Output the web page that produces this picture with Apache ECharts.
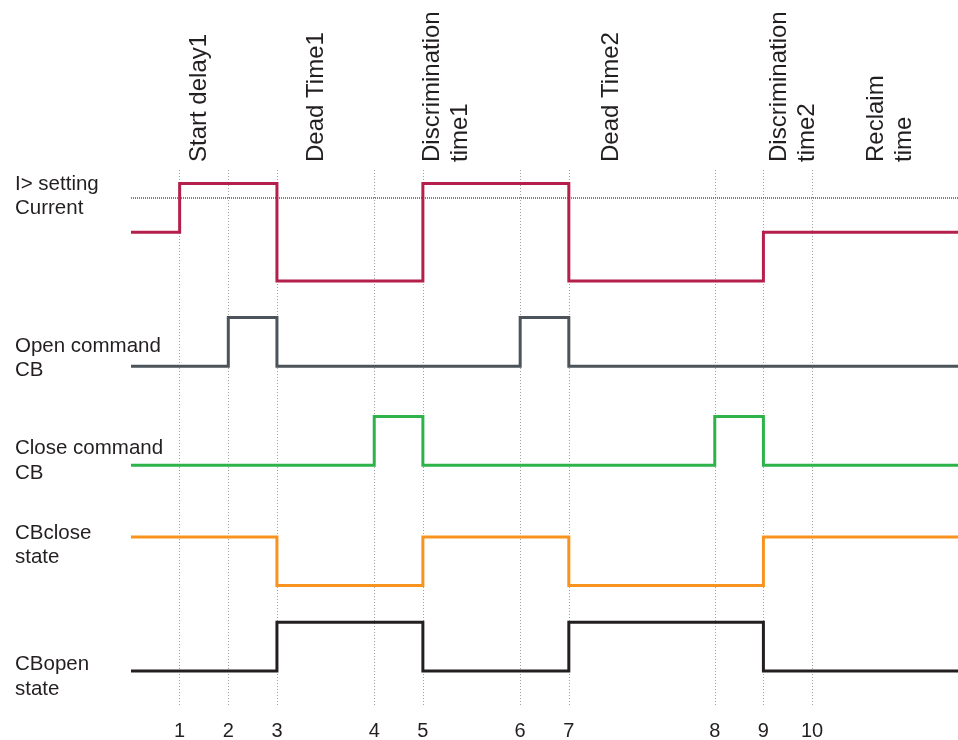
<!DOCTYPE html>
<html>
<head>
<meta charset="utf-8">
<script src="https://cdn.jsdelivr.net/npm/echarts@6/dist/echarts.min.js"></script>
<style>html,body{margin:0;padding:0;background:#fff;}#chart{width:958px;height:740px;}</style>
</head>
<body>
<div id="chart"></div>
<script>
// ---- data ----
const tickPositions = [1, 2, 3, 5, 6, 8, 9, 12, 13, 14];
const tickLabels = ['1', '2', '3', '4', '5', '6', '7', '8', '9', '10'];
const timeEnd = 17;

const currentTimes = [0, 1, 3, 6, 9, 13];
const currentLevels = [0, 1, -1, 1, -1, 0];
const currentThreshold = 0.7;

const openTimes = [0, 2, 3, 8, 9];
const openLevels = [0, 1, 0, 1, 0];

const closeTimes = [0, 5, 6, 12, 13];
const closeLevels = [0, 1, 0, 1, 0];

const cbCloseTimes = [0, 3, 6, 9, 13];
const cbCloseLevels = [1, 0, 1, 0, 1];

const cbOpenTimes = [0, 3, 6, 9, 13];
const cbOpenLevels = [0, 1, 0, 1, 0];

const signalNames = ['I> setting\nCurrent', 'Open command\nCB', 'Close command\nCB', 'CBclose\nstate', 'CBopen\nstate'];
const phaseLabels = ['Start delay1', 'Dead Time1', 'Discrimination\ntime1', 'Dead Time2', 'Discrimination\ntime2', 'Reclaim\ntime'];

// ---- layout / style ----
const baselines = [10, 7.25, 5.22, 2.75, 1.0];
const colors = ['#b41f4b', '#4c535a', '#2db34a', '#f7931e', '#231f20'];
const FONT = '"Liberation Sans", Arial, Helvetica, sans-serif';
const TEXT = '#231f20';

function buildSteps(times, levels, base) {
  const d = times.map((t, i) => [t, base + levels[i]]);
  d.push([timeEnd, base + levels[levels.length - 1]]);
  return d;
}

const signals = [
  [currentTimes, currentLevels],
  [openTimes, openLevels],
  [closeTimes, closeLevels],
  [cbCloseTimes, cbCloseLevels],
  [cbOpenTimes, cbOpenLevels]
];

const series = signals.map((s, i) => ({
  type: 'line',
  step: 'end',
  data: buildSteps(s[0], s[1], baselines[i]),
  showSymbol: false,
  symbol: 'none',
  silent: true,
  z: 5,
  lineStyle: { color: colors[i], width: 3, join: 'miter', cap: 'butt' }
}));

// vertical dotted reference lines at the numbered instants + threshold line
series.push({
  type: 'line',
  data: [],
  silent: true,
  z: 1,
  markLine: {
    silent: true,
    symbol: 'none',
    label: { show: false },
    animation: false,
    lineStyle: { color: '#a0a0a0', width: 1, type: [1, 2] },
    data: tickPositions.map(v => ({ xAxis: v }))
  }
});
series.push({
  type: 'line',
  data: [],
  silent: true,
  z: 2,
  markLine: {
    silent: true,
    symbol: 'none',
    label: { show: false },
    animation: false,
    lineStyle: { color: '#555', width: 1.5, type: [1, 1] },
    data: [{ yAxis: baselines[0] + currentThreshold }]
  }
});

// ---- text annotations ----
const phaseX = [185.6, 302.7, 418.4, 597, 765, 862];
const leftY = [196.5, 358.3, 460.7, 545.5, 676.7];
const graphics = [];
phaseLabels.forEach((t, i) => {
  graphics.push({
    type: 'text', x: phaseX[i], y: 162, rotation: Math.PI / 2, silent: true,
    style: { text: t, font: '24px ' + FONT, fill: TEXT, align: 'left', verticalAlign: 'top', lineHeight: 28 }
  });
});
signalNames.forEach((t, i) => {
  graphics.push({
    type: 'text', x: 15, y: leftY[i], silent: true,
    style: { text: t, font: '20.5px ' + FONT, fill: TEXT, align: 'left', verticalAlign: 'middle', lineHeight: 24.5 }
  });
});

const chart = echarts.init(document.getElementById('chart'), null, { renderer: 'canvas' });
chart.setOption({
  animation: false,
  backgroundColor: '#fff',
  grid: { left: 131, right: 0, top: 168, bottom: 35, containLabel: false, outerBoundsMode: 'none' },
  xAxis: {
    type: 'value', min: 0, max: timeEnd, interval: 1,
    axisLine: { show: false }, axisTick: { show: false }, splitLine: { show: false },
    axisLabel: {
      margin: 16, fontSize: 20, color: TEXT, fontFamily: FONT, showMinLabel: true, showMaxLabel: true,
      formatter: v => { const k = tickPositions.indexOf(v); return k >= 0 ? tickLabels[k] : ''; }
    }
  },
  yAxis: { type: 'value', min: 0.3, max: 11.32, show: false },
  series: series,
  graphic: graphics
});
</script>
</body>
</html>
